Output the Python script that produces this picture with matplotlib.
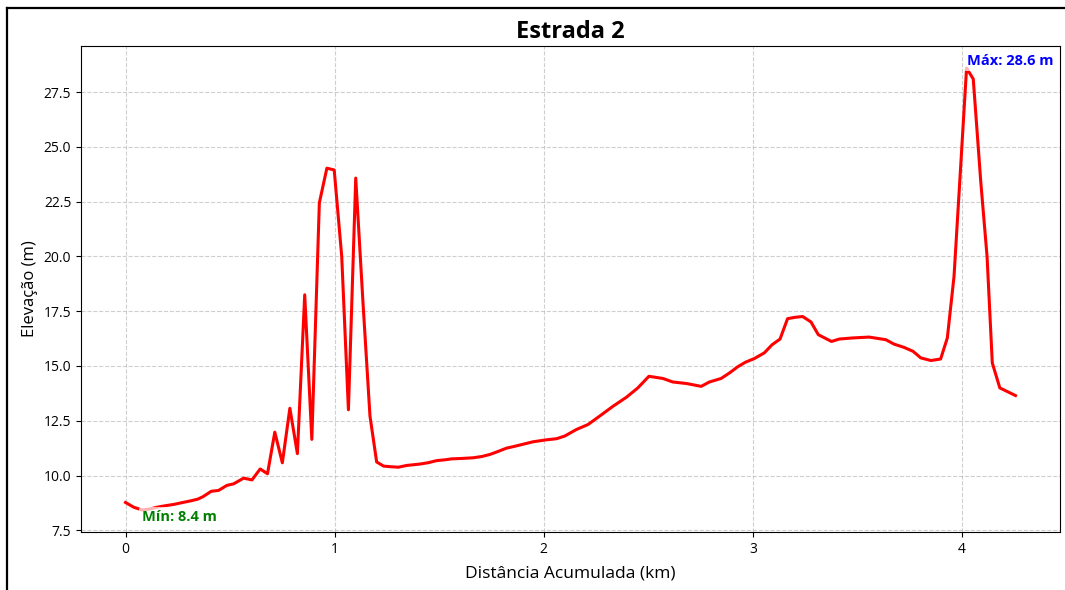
import matplotlib
matplotlib.use("Agg")
import matplotlib.pyplot as plt
from matplotlib.lines import Line2D
import numpy as np

plt.rcParams['font.family'] = ['Open Sans', 'DejaVu Sans']

# Elevation profile: accumulated distance (km) and elevation (m)
distancia_km = [
    0.000, 0.040, 0.078, 0.115, 0.150, 0.190, 0.230, 0.270, 0.310, 0.345,
    0.370, 0.410, 0.445, 0.485, 0.517, 0.565, 0.605, 0.644, 0.679, 0.714,
    0.750, 0.786, 0.822, 0.857, 0.891, 0.927, 0.963, 0.998, 1.034, 1.066,
    1.101, 1.135, 1.169, 1.201, 1.234, 1.270, 1.305, 1.345, 1.405, 1.445,
    1.488, 1.530, 1.559, 1.610, 1.663, 1.705, 1.742, 1.782, 1.822, 1.855,
    1.885, 1.949, 2.013, 2.061, 2.100, 2.156, 2.212, 2.267, 2.331, 2.395,
    2.450, 2.503, 2.570, 2.617, 2.683, 2.753, 2.792, 2.848, 2.888, 2.927,
    2.964, 3.007, 3.055, 3.092, 3.130, 3.166, 3.200, 3.238, 3.278, 3.313,
    3.376, 3.413, 3.476, 3.556, 3.636, 3.675, 3.723, 3.766, 3.803, 3.851,
    3.898, 3.930, 3.962, 3.995, 4.022, 4.054, 4.090, 4.120, 4.145, 4.181,
    4.256,
]
elevacao_m = [
    8.77, 8.55, 8.43, 8.47, 8.55, 8.62, 8.68, 8.76, 8.84, 8.92,
    9.03, 9.28, 9.32, 9.55, 9.62, 9.88, 9.80, 10.30, 10.08, 11.98,
    10.58, 13.07, 11.00, 18.25, 11.65, 22.45, 24.03, 23.95, 20.00, 13.00,
    23.58, 18.00, 12.72, 10.62, 10.43, 10.40, 10.38, 10.46, 10.52, 10.58,
    10.68, 10.72, 10.76, 10.78, 10.81, 10.87, 10.96, 11.10, 11.25, 11.32,
    11.39, 11.54, 11.63, 11.68, 11.80, 12.10, 12.33, 12.71, 13.16, 13.57,
    14.00, 14.53, 14.43, 14.27, 14.20, 14.07, 14.27, 14.43, 14.68, 14.96,
    15.17, 15.34, 15.60, 15.97, 16.23, 17.16, 17.22, 17.26, 17.01, 16.43,
    16.12, 16.23, 16.28, 16.32, 16.20, 16.00, 15.85, 15.67, 15.37, 15.25,
    15.32, 16.28, 19.09, 24.30, 28.60, 28.10, 23.40, 20.00, 15.14, 14.00,
    13.65,
]

titulo = "Estrada 2"
rotulo_x = "Distância Acumulada (km)"
rotulo_y = "Elevação (m)"

x = np.array(distancia_km)
y = np.array(elevacao_m)
i_min = int(np.argmin(y))
i_max = int(np.argmax(y))

W, H = 1065, 590
fig = plt.figure(figsize=(W / 100, H / 100), dpi=100)
ax = fig.add_axes([81 / W, 1 - 532 / H, (1060 - 81) / W, (532 - 46) / H])

ax.plot(x, y, color='red', linewidth=2.2)

ax.text(x[i_min], y[i_min], f"Mín: {y[i_min]:.1f} m", color='green',
        fontsize=10.5, fontweight='bold', ha='left', va='top',
        bbox=dict(boxstyle='round,pad=0.2', facecolor='white', alpha=0.7, edgecolor='none'))
ax.text(x[i_max], y[i_max], f"Máx: {y[i_max]:.1f} m", color='blue',
        fontsize=10.5, fontweight='bold', ha='left', va='bottom',
        bbox=dict(boxstyle='round,pad=0.2', facecolor='white', alpha=0.7, edgecolor='none'))

ax.set_title(titulo, fontsize=17, fontweight='bold')
ax.set_xlabel(rotulo_x, fontsize=12.5, labelpad=6)
ax.set_ylabel(rotulo_y, fontsize=12)
ax.tick_params(labelsize=10)
ax.grid(True, linestyle='--', alpha=0.6)

# Frame around the figure (top and left edges)
fig.add_artist(Line2D([7 / W, 1.0], [1 - 8 / H, 1 - 8 / H], color='black',
                      linewidth=1.6, transform=fig.transFigure))
fig.add_artist(Line2D([7 / W, 7 / W], [0.0, 1 - 8 / H], color='black',
                      linewidth=1.6, transform=fig.transFigure))

fig.savefig("out.png", dpi=100)
